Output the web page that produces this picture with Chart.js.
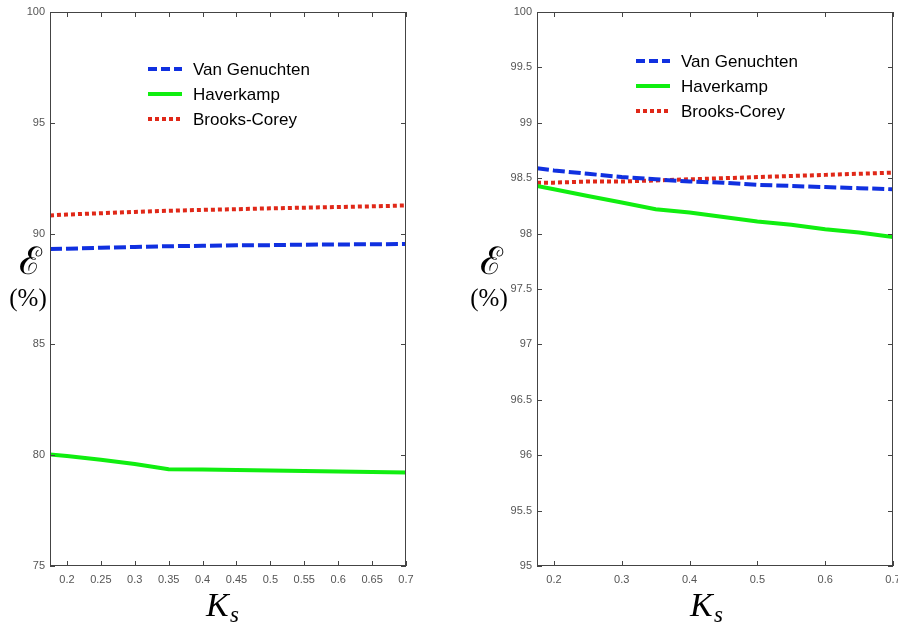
<!DOCTYPE html>
<html>
<head>
<meta charset="utf-8">
<script src="https://cdn.jsdelivr.net/npm/chart.js@4/dist/chart.umd.min.js"></script>
<style>
  html, body { margin: 0; padding: 0; background: #fff; }
  #wrap { position: relative; width: 898px; height: 627px; overflow: hidden; }
  .pane { position: absolute; top: 0; width: 449px; height: 627px; }
  #left { left: 0; }
  #right { left: 449px; }
</style>
</head>
<body>
<div id="wrap">
  <div class="pane" id="left"><canvas id="chartL"></canvas></div>
  <div class="pane" id="right"><canvas id="chartR"></canvas></div>
</div>
<script>
// shared x values (Ks)
var ks = [0.175, 0.2, 0.25, 0.3, 0.35, 0.4, 0.45, 0.5, 0.55, 0.6, 0.65, 0.7];
var seriesNames = ['Van Genuchten', 'Haverkamp', 'Brooks-Corey'];

// left panel
var leftVanGenuchten = [89.30, 89.32, 89.36, 89.40, 89.43, 89.45, 89.47, 89.48, 89.50, 89.51, 89.52, 89.53];
var leftHaverkamp    = [80.03, 79.96, 79.79, 79.60, 79.37, 79.35, 79.33, 79.31, 79.29, 79.26, 79.24, 79.22];
var leftBrooksCorey  = [90.82, 90.86, 90.92, 90.98, 91.03, 91.07, 91.10, 91.14, 91.17, 91.20, 91.23, 91.27];
var leftXTicks = [0.2, 0.25, 0.3, 0.35, 0.4, 0.45, 0.5, 0.55, 0.6, 0.65, 0.7];
var leftYTicks = [75, 80, 85, 90, 95, 100];

// right panel
var rightVanGenuchten = [98.59, 98.57, 98.54, 98.51, 98.49, 98.47, 98.46, 98.44, 98.43, 98.42, 98.41, 98.40];
var rightHaverkamp    = [98.43, 98.40, 98.34, 98.28, 98.22, 98.19, 98.15, 98.11, 98.08, 98.04, 98.01, 97.97];
var rightBrooksCorey  = [98.46, 98.46, 98.47, 98.47, 98.48, 98.49, 98.50, 98.51, 98.52, 98.53, 98.54, 98.55];
var rightXTicks = [0.2, 0.3, 0.4, 0.5, 0.6, 0.7];
var rightYTicks = [95, 95.5, 96, 96.5, 97, 97.5, 98, 98.5, 99, 99.5, 100];

var STYLES = [
    {color: '#1030e0', dash: [12, 4], legendDash: [9, 4]},
    {color: '#10ee10', dash: [], legendDash: []},
    {color: '#e02818', dash: [4, 3], legendDash: [4, 3]}
];

function pts(ys) {
    return ks.map(function (x, i) { return {x: x, y: ys[i]}; });
}

// box, inward ticks, axis labels and legend
var decor = {
    id: 'decor',
    afterDraw: function (ch) {
        var o = ch.options.plugins.decor,
            c = ch.ctx,
            a = ch.chartArea,
            xs = ch.scales.x,
            ys = ch.scales.y;

        c.save();
        c.strokeStyle = '#444';
        c.lineWidth = 1;
        c.strokeRect(a.left + 0.5, a.top + 0.5, a.right - a.left - 1, a.bottom - a.top - 1);
        c.beginPath();
        xs.ticks.forEach(function (t) {
            var px = Math.round(xs.getPixelForValue(t.value)) + 0.5;
            c.moveTo(px, a.bottom); c.lineTo(px, a.bottom - 5);
            c.moveTo(px, a.top); c.lineTo(px, a.top + 5);
        });
        ys.ticks.forEach(function (t) {
            var py = Math.round(ys.getPixelForValue(t.value)) + 0.5;
            c.moveTo(a.left, py); c.lineTo(a.left + 5, py);
            c.moveTo(a.right, py); c.lineTo(a.right - 5, py);
        });
        c.stroke();

        // y label
        c.fillStyle = '#000';
        c.textAlign = 'center';
        c.textBaseline = 'alphabetic';
        c.font = '38px "DejaVu Serif"';
        c.fillText('\u2130', o.yLabelX, o.yLabelY);
        c.font = '25px "Liberation Serif"';
        c.fillText('(%)', o.yLabelX - 2, o.yLabelY + 32);

        // x label
        c.textAlign = 'left';
        c.font = 'italic 34px "Liberation Serif"';
        c.fillText('K', o.xLabelX, 616);
        c.font = 'italic 23px "Liberation Serif"';
        c.fillText('s', o.xLabelX + 24, 622);

        // legend
        c.font = '17px "Liberation Sans"';
        c.textBaseline = 'middle';
        ch.data.datasets.forEach(function (ds, i) {
            var y = o.legendY + i * 25;
            c.strokeStyle = ds.borderColor;
            c.lineWidth = 4;
            c.lineCap = 'butt';
            c.setLineDash(STYLES[i].legendDash);
            c.beginPath();
            c.moveTo(o.legendX, y);
            c.lineTo(o.legendX + 34, y);
            c.stroke();
            c.setLineDash([]);
            c.fillStyle = '#000';
            c.fillText(ds.label, o.legendX + 45, y + 1);
        });
        c.restore();
    }
};

function makeChart(id, data, xTicks, yTicks, yMin, yMax, yAxisWidth, padRight, deco) {
    var datasets = data.map(function (ys, i) {
        return {
            label: seriesNames[i],
            data: pts(ys),
            borderColor: STYLES[i].color,
            borderDash: STYLES[i].dash,
            borderWidth: 4,
            pointRadius: 0,
            tension: 0,
            fill: false
        };
    });

    return new Chart(document.getElementById(id), {
        type: 'line',
        data: {datasets: datasets},
        options: {
            responsive: true,
            maintainAspectRatio: false,
            animation: false,
            layout: {padding: {left: 0, right: padRight, top: 12, bottom: 0}},
            plugins: {
                legend: {display: false},
                tooltip: {enabled: false},
                decor: deco
            },
            scales: {
                x: {
                    type: 'linear',
                    min: 0.175,
                    max: 0.7,
                    grid: {display: false, drawTicks: false},
                    border: {display: false},
                    afterBuildTicks: function (axis) {
                        axis.ticks = xTicks.map(function (v) { return {value: v}; });
                    },
                    afterFit: function (axis) {
                        axis.height = 61;
                        axis.paddingLeft = 0;
                        axis.paddingRight = 0;
                    },
                    ticks: {
                        color: '#555',
                        font: {family: '"Liberation Sans"', size: 11},
                        padding: 7,
                        maxRotation: 0,
                        autoSkip: false,
                        callback: function (v) { return String(v); }
                    }
                },
                y: {
                    type: 'linear',
                    min: yMin,
                    max: yMax,
                    grid: {display: false, drawTicks: false},
                    border: {display: false},
                    afterBuildTicks: function (axis) {
                        axis.ticks = yTicks.map(function (v) { return {value: v}; });
                    },
                    afterFit: function (axis) {
                        axis.width = yAxisWidth;
                        axis.paddingTop = 0;
                        axis.paddingBottom = 0;
                    },
                    ticks: {
                        color: '#555',
                        font: {family: '"Liberation Sans"', size: 11},
                        padding: 5,
                        autoSkip: false,
                        callback: function (v) { return String(v); }
                    }
                }
            }
        },
        plugins: [decor]
    });
}

makeChart('chartL', [leftVanGenuchten, leftHaverkamp, leftBrooksCorey],
    leftXTicks, leftYTicks, 75, 100, 50, 43,
    {yLabelX: 30, yLabelY: 274, xLabelX: 206, legendX: 148, legendY: 69});

makeChart('chartR', [rightVanGenuchten, rightHaverkamp, rightBrooksCorey],
    rightXTicks, rightYTicks, 95, 100, 88, 5,
    {yLabelX: 42, yLabelY: 274, xLabelX: 241, legendX: 187, legendY: 61});
</script>
</body>
</html>
